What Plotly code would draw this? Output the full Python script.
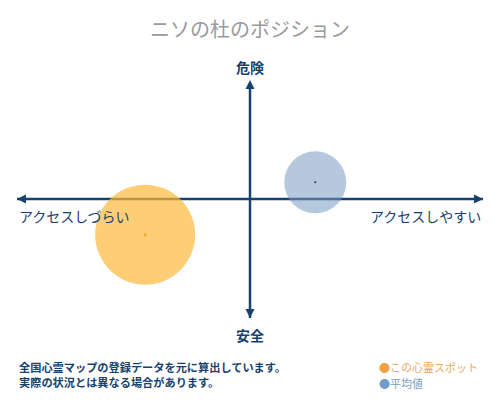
import plotly.graph_objects as go

# bubble data (x: access ease, y: danger, size: bubble diameter value)
names = ["この心霊スポット", "平均値"]
xs = [-0.45, 0.28]
ys = [-0.30, 0.14]
sizes = [100, 62]
fills = ["rgba(252,185,60,0.7)", "rgba(120,155,195,0.55)"]
dots = ["#f5a21f", "#1d3557"]
key_cols = ["#f0a040", "#6f9cc8"]
text_cols = ["#eba75a", "#7b9dc0"]

title = "ニソの杜のポジション"
top_label = "危険"
bottom_label = "安全"
left_label = "アクセスしづらい"
right_label = "アクセスしやすい"
note = "全国心霊マップの登録データを元に算出しています。<br>実際の状況とは異なる場合があります。"

navy = "#17426e"
font = "Noto Sans CJK JP"

fig = go.Figure()

# axes with arrow tips
fig.add_trace(go.Scatter(x=[-1, 1], y=[0, 0], mode="lines+markers",
                         line=dict(color=navy, width=2.5),
                         marker=dict(symbol=["arrow-left", "arrow-right"], size=9, color=navy),
                         cliponaxis=False, showlegend=False, hoverinfo="skip"))
fig.add_trace(go.Scatter(x=[0, 0], y=[-1, 1], mode="lines+markers",
                         line=dict(color=navy, width=2.5),
                         marker=dict(symbol=["arrow-down", "arrow-up"], size=9, color=navy),
                         cliponaxis=False, showlegend=False, hoverinfo="skip"))

for i in range(len(names)):
    fig.add_trace(go.Scatter(
        x=[xs[i]], y=[ys[i]], mode="markers", name=names[i],
        marker=dict(size=sizes[i], sizemode="diameter", color=fills[i], line=dict(width=0)),
        cliponaxis=False, showlegend=False))
    fig.add_trace(go.Scatter(x=[xs[i]], y=[ys[i]], mode="markers",
                             marker=dict(size=3 if i == 0 else 2, color=dots[i]),
                             showlegend=False, hoverinfo="skip"))

anns = [
    dict(text="<b>" + top_label + "</b>", x=0.5, y=1.055, font=dict(size=14, color=navy)),
    dict(text="<b>" + bottom_label + "</b>", x=0.5, y=-0.071, font=dict(size=14, color=navy)),
    dict(text=left_label, x=0, y=0.429, xanchor="left", font=dict(size=14, color=navy)),
    dict(text=right_label, x=1, y=0.429, xanchor="right", font=dict(size=14, color=navy)),
]
for a in anns:
    a.update(xref="paper", yref="paper", showarrow=False, yanchor="middle")
    a["font"]["family"] = font
    fig.add_annotation(**a)
fig.add_annotation(text="<b>" + note + "</b>", x=0, y=-0.165, xref="paper", yref="paper",
                   xanchor="left", yanchor="top", align="left", showarrow=False,
                   font=dict(size=11.2, color=navy, family=font))

# key, written as text next to the plot, one row per series
key_y = [-0.206, -0.273]
for i in range(len(names)):
    fig.add_annotation(
        text="<span style='color:%s'>●</span><span style='color:%s'>%s</span>"
             % (key_cols[i], text_cols[i], names[i]),
        x=0.7725, y=key_y[i], xref="paper", yref="paper",
        xanchor="left", yanchor="middle", showarrow=False,
        font=dict(size=11, family=font))

fig.update_layout(
    width=500, height=400,
    margin=dict(l=17, r=17, t=80, b=82, autoexpand=False),
    paper_bgcolor="white", plot_bgcolor="white",
    font=dict(family=font),
    title=dict(text=title, x=0.5, xanchor="center", y=0.925, yanchor="middle",
               font=dict(size=20, color="#9a9a9a", family=font)),
    xaxis=dict(range=[-1, 1], visible=False, fixedrange=True),
    yaxis=dict(range=[-1, 1], visible=False, fixedrange=True),
    showlegend=False,
)

fig.write_html("out.html", config={"displayModeBar": False},
               post_script="document.body.style.margin='0';")
